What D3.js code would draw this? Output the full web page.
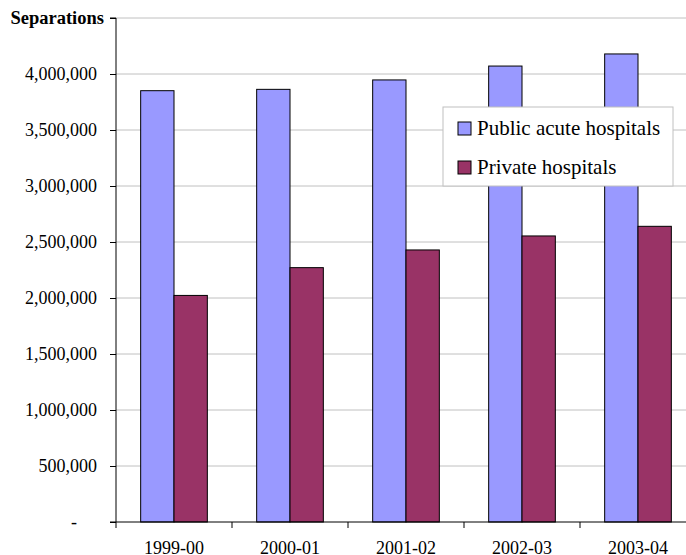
<!doctype html>
<html lang="en">
<head>
<meta charset="UTF-8">
<title>Separations</title>
<script src="https://d3js.org/d3.v7.min.js"></script>
<style>
body { margin: 0; background-color: #ffffff; overflow: hidden; }
svg { display: block; }
text { font-family: "Liberation Serif", "Times New Roman", serif; fill: #000; }
.axis path, .axis line { stroke: #000; }
.axis text { font-size: 18px; }
.grid line { stroke: #c0c0c0; }
</style>
</head>
<body>
<div id="plot"></div>
<script>

var years = ["1999-00", "2000-01", "2001-02", "2002-03", "2003-04"];
var seriesNames = ["Public acute hospitals", "Private hospitals"];
var publicAcute = [3851000, 3863000, 3947000, 4071000, 4179000];
var privateHosp = [2023000, 2271000, 2429000, 2554000, 2640000];
var colors = ["#9999ff", "#993366"];
var yTicks = [0, 500000, 1000000, 1500000, 2000000, 2500000, 3000000, 3500000, 4000000, 4500000];

var width = 686, height = 555;
var plotLeft = 116, plotRight = 696, plotTop = 18, plotBottom = 522;

var svg = d3.select("#plot").append("svg")
	.attr("width", width)
	.attr("height", height);

var x0 = d3.scaleBand().domain(years).range([plotLeft, plotRight]);
var x1 = d3.scaleBand().domain(seriesNames).range([0, x0.bandwidth()]).paddingOuter(0.74);
var y = d3.scaleLinear().domain([0, 4500000]).range([plotBottom, plotTop]);

// gridlines
svg.append("g").attr("class", "grid")
	.selectAll("line").data(yTicks.slice(1)).enter().append("line")
	.attr("x1", plotLeft).attr("x2", plotRight)
	.attr("y1", function (d) { return y(d); })
	.attr("y2", function (d) { return y(d); });

var rows = years.map(function (yr, i) {
	return { year: yr, values: [publicAcute[i], privateHosp[i]] };
});

var groups = svg.selectAll("g.year").data(rows).enter().append("g")
	.attr("class", "year")
	.attr("transform", function (d) { return "translate(" + x0(d.year) + ",0)"; });

groups.selectAll("rect").data(function (d) {
	return d.values.map(function (v, j) { return { name: seriesNames[j], value: v, idx: j }; });
}).enter().append("rect")
	.attr("x", function (d) { return x1(d.name); })
	.attr("y", function (d) { return y(d.value); })
	.attr("width", x1.bandwidth())
	.attr("height", function (d) { return plotBottom - y(d.value); })
	.style("fill", function (d) { return colors[d.idx]; })
	.style("stroke", "#000")
	.style("stroke-width", 1);

// y axis
var yAxis = d3.axisLeft(y).tickValues(yTicks).tickSize(6).tickPadding(13)
	.tickFormat(function (d) { return d === 0 ? "-" : (d === 4500000 ? "" : d3.format(",")(d)); });

var yG = svg.append("g").attr("class", "axis")
	.attr("transform", "translate(" + plotLeft + ",0)")
	.call(yAxis);
yG.select(".domain").attr("d", "M-6," + plotTop + "H0V" + plotBottom + "H-6");
yG.selectAll(".tick text").filter(function (d) { return d === 0; })
	.attr("dx", -20);

// x axis
var xAxis = d3.axisBottom(x0).tickSize(0).tickPadding(19);
var xG = svg.append("g").attr("class", "axis")
	.attr("transform", "translate(0," + plotBottom + ")")
	.call(xAxis);
xG.select(".domain").attr("d", "M" + plotLeft + ",0H" + plotRight);
xG.selectAll("line.sep").data(years).enter().append("line")
	.attr("class", "sep")
	.attr("x1", function (d) { return x0(d); })
	.attr("x2", function (d) { return x0(d); })
	.attr("y1", 0).attr("y2", 6);

svg.append("text")
	.attr("x", 104).attr("y", plotTop + 6)
	.attr("text-anchor", "end")
	.style("font-size", "18.5px")
	.style("font-weight", "bold")
	.text("Separations");

// legend
var legend = svg.append("g").attr("transform", "translate(443,107)");
legend.append("rect")
	.attr("width", 230).attr("height", 79)
	.style("fill", "#fff").style("stroke", "#c0c0c0");
seriesNames.forEach(function (name, i) {
	legend.append("rect")
		.attr("x", 15).attr("y", 15 + i * 39)
		.attr("width", 13).attr("height", 13)
		.style("fill", colors[i]).style("stroke", "#000");
	legend.append("text")
		.attr("x", 34).attr("y", 28 + i * 39)
		.style("font-size", "21px")
		.text(name);
});

</script>
</body>
</html>
